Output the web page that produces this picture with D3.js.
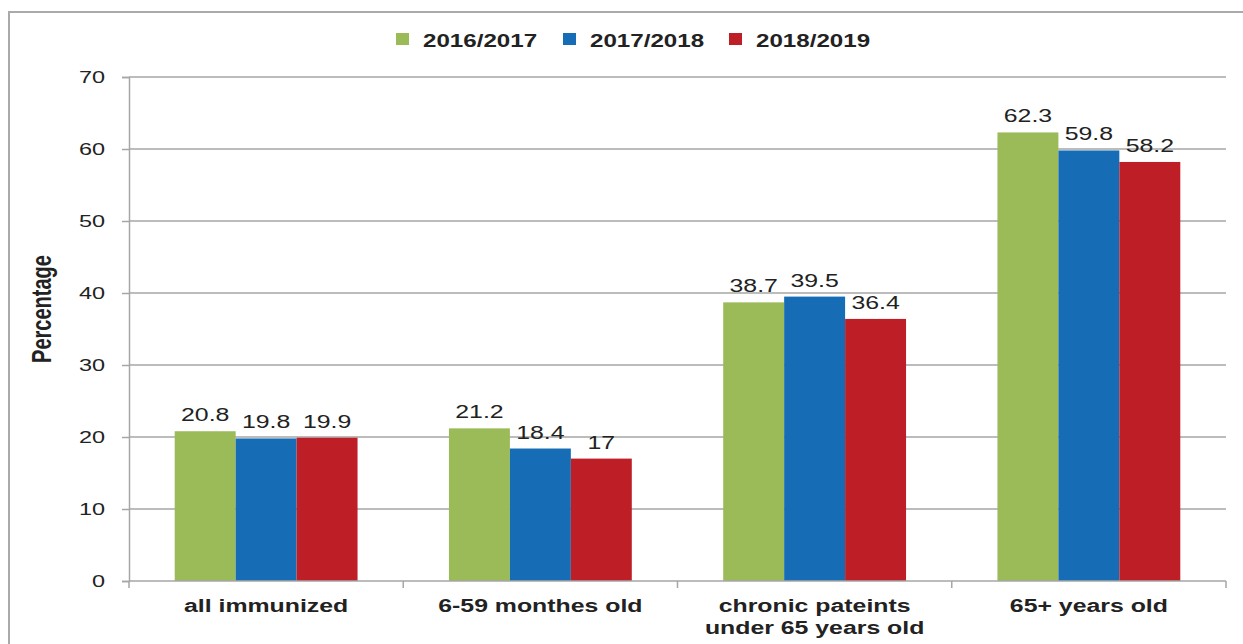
<!DOCTYPE html>
<html><head><meta charset="utf-8">
<script src="https://cdn.jsdelivr.net/npm/d3@7"></script>
<style>body{margin:0;background:#fff;} svg{display:block;}</style>
</head><body>
<svg id="c" width="1243" height="644"></svg>
<script>
const categories = [["all immunized"], ["6-59 monthes old"], ["chronic pateints", "under 65 years old"], ["65+ years old"]];
const seriesNames = ["2016/2017", "2017/2018", "2018/2019"];
const values2016 = [20.8, 21.2, 38.7, 62.3];
const values2017 = [19.8, 18.4, 39.5, 59.8];
const values2018 = [19.9, 17, 36.4, 58.2];
const yTicks = [0, 10, 20, 30, 40, 50, 60, 70];
const colors = ["#9bbb59", "#166db6", "#be1e26"];

const seriesValues = [values2016, values2017, values2018];
const catKeys = categories.map(c => c.join(" "));
const SX = 1.38; // horizontal stretch of the original image text
const font = "'Liberation Sans', Arial, sans-serif";

const svg = d3.select("#c");
const L = 129, R = 1226, T = 77, B = 581;

// outer frame
svg.append("path").attr("d", `M9,660 V12 H1250`).attr("fill", "none").attr("stroke", "#aaa").attr("stroke-width", 2);

const y = d3.scaleLinear().domain([0, 70]).range([B, T]);
const x0 = d3.scaleBand().domain(catKeys).range([L, R]).paddingInner(1/3).paddingOuter(1/6);
const x1 = d3.scaleBand().domain(seriesNames).range([0, x0.bandwidth()]);
const step = x0.step();

function stretchedText(g, x, yy, txt, opts) {
  return g.append("text")
    .attr("transform", `translate(${x},${yy}) scale(${SX},1)`)
    .attr("text-anchor", opts.anchor || "middle")
    .attr("font-family", font)
    .attr("font-size", opts.size)
    .attr("font-weight", opts.weight || "normal")
    .attr("fill", opts.fill || "#222")
    .text(txt);
}

// gridlines
svg.append("g").selectAll("line").data(yTicks.filter(d => d > 0)).join("line")
  .attr("x1", L).attr("x2", R).attr("y1", d => y(d)).attr("y2", d => y(d))
  .attr("stroke", "#a6a6a6").attr("stroke-width", 1.5);

// y axis
const yAxis = svg.append("g").attr("transform", `translate(${L},0)`)
  .call(d3.axisLeft(y).tickValues(yTicks).tickSize(7).tickFormat(""));
yAxis.select(".domain").attr("stroke", "#a6a6a6").attr("stroke-width", 1.5);
yAxis.selectAll(".tick line").attr("stroke", "#a6a6a6").attr("stroke-width", 1.5);
const tg = svg.append("g");
yTicks.forEach(v => stretchedText(tg, L - 24, y(v) + 6, String(v), {anchor: "end", size: 17, fill: "#222"}));

// bars
const gBars = svg.append("g");
seriesNames.forEach((s, si) => {
  gBars.append("g").selectAll("rect").data(seriesValues[si]).join("rect")
    .attr("x", (d, i) => x0(catKeys[i]) + x1(s))
    .attr("y", d => y(d))
    .attr("width", x1.bandwidth())
    .attr("height", d => B - y(d))
    .attr("fill", colors[si]);
});

// x axis
svg.append("line").attr("x1", L).attr("x2", R).attr("y1", B).attr("y2", B)
  .attr("stroke", "#a6a6a6").attr("stroke-width", 1.5);
const sepTicks = catKeys.map(k => x0(k) - step * x0.paddingInner() / 2).concat([R]);
sepTicks[0] = L;
svg.append("g").selectAll("line").data(sepTicks).join("line")
  .attr("x1", d => d).attr("x2", d => d).attr("y1", B).attr("y2", B + 7)
  .attr("stroke", "#a6a6a6").attr("stroke-width", 1.5);

// data labels
const gl = svg.append("g");
seriesNames.forEach((s, si) => {
  seriesValues[si].forEach((v, i) => {
    stretchedText(gl, x0(catKeys[i]) + x1(s) + x1.bandwidth() / 2, y(v) - 10, String(v), {size: 18, fill: "#222"});
  });
});

// category labels
const gc = svg.append("g");
categories.forEach((lines, i) => {
  const cx = x0(catKeys[i]) + x0.bandwidth() / 2;
  lines.forEach((ln, li) => {
    stretchedText(gc, cx, 612 + li * 22, ln, {size: 18, weight: "bold", fill: "#222"});
  });
});

// y axis title (glyphs widened horizontally like the source)
svg.append("text").attr("transform", `translate(51,309) rotate(-90) scale(1,${SX})`)
  .attr("text-anchor", "middle").attr("font-family", font).attr("font-size", 20)
  .attr("font-weight", "bold").attr("fill", "#222").text("Percentage");

// legend
const legendSquareX = [396, 563, 729];
const lg = svg.append("g");
seriesNames.forEach((s, si) => {
  lg.append("rect").attr("x", legendSquareX[si]).attr("y", 33).attr("width", 13).attr("height", 12).attr("fill", colors[si]);
  stretchedText(lg, legendSquareX[si] + 27, 47, s, {anchor: "start", size: 17.5, weight: "bold", fill: "#222"});
});
</script>
</body></html>
